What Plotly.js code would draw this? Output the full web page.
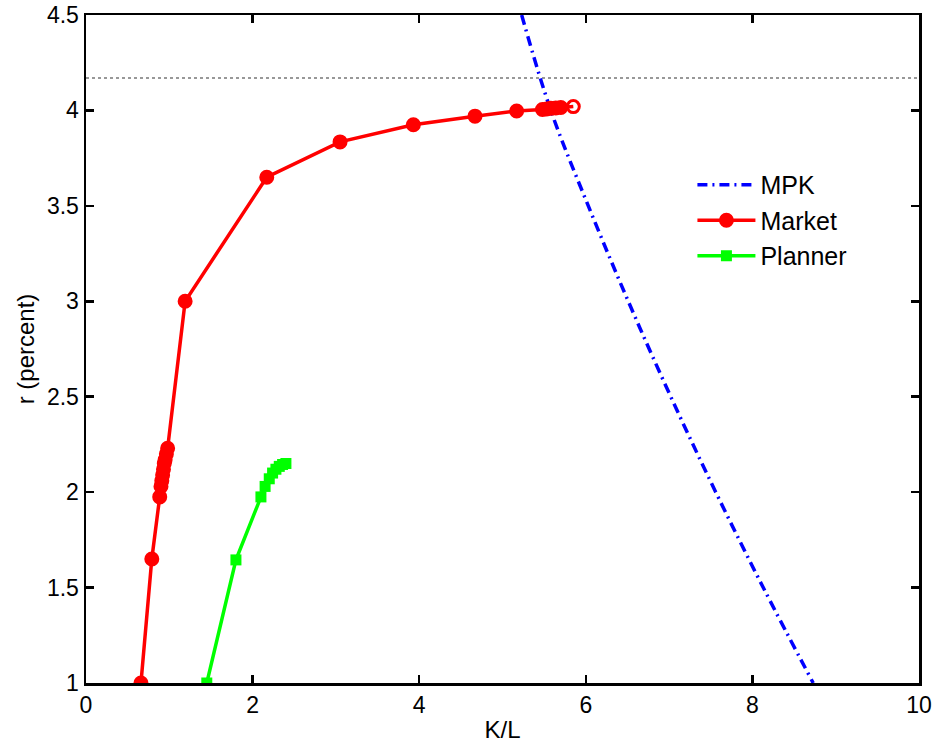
<!DOCTYPE html>
<html>
<head>
<meta charset="utf-8">
<script src="https://cdn.plot.ly/plotly-3.0.1.min.js"></script>
<style>html,body{margin:0;padding:0;background:#fff;}#chart{width:940px;height:747px;}</style>
</head>
<body>
<div id="chart"></div>
<script>
// MPK curve
const mpkX = [5.23, 5.58, 6.03, 6.51, 7.02, 7.56, 8.13, 8.73];
const mpkY = [4.5, 4.0, 3.5, 3.0, 2.5, 2.0, 1.5, 1.0];

// Market path
const marketX = [0.66, 0.79, 0.885, 0.90, 0.91, 0.92, 0.93, 0.94, 0.95, 0.965, 0.98, 1.19, 2.17, 3.05, 3.93, 4.67, 5.17, 5.48, 5.53, 5.58, 5.64, 5.70, 5.85];
const marketY = [1.0, 1.65, 1.975, 2.03, 2.06, 2.09, 2.12, 2.15, 2.17, 2.20, 2.23, 3.0, 3.65, 3.835, 3.925, 3.97, 3.997, 4.005, 4.008, 4.011, 4.013, 4.015, 4.02];

// Planner path
const plannerX = [1.45, 1.80, 2.10, 2.15, 2.20, 2.24, 2.28, 2.32, 2.36, 2.40];
const plannerY = [1.0, 1.645, 1.975, 2.03, 2.07, 2.10, 2.12, 2.135, 2.145, 2.15];

// Horizontal reference level
const refX = [0, 10];
const refY = [4.17, 4.17];

const xTicks = [0, 2, 4, 6, 8, 10];
const yTicks = [1, 1.5, 2, 2.5, 3, 3.5, 4, 4.5];

const marketSymbols = marketX.map((_, i) => i === marketX.length - 1 ? 'circle-open' : 'circle');

const traces = [
  {x: refX, y: refY, mode: 'lines', showlegend: false, hoverinfo: 'skip',
   line: {color: '#777777', width: 1.5, dash: 'dot'}},
  {x: mpkX, y: mpkY, mode: 'lines', name: 'MPK',
   line: {color: '#0000ff', width: 3.5, dash: '10px,5px,2px,5px', shape: 'spline'}},
  {x: marketX, y: marketY, mode: 'lines+markers', name: 'Market',
   line: {color: '#ff0000', width: 3.5},
   marker: {color: '#ff0000', size: 12, symbol: marketSymbols, line: {color: '#ff0000', width: 3}}},
  {x: plannerX, y: plannerY, mode: 'lines+markers', name: 'Planner',
   line: {color: '#00ff00', width: 3.5},
   marker: {color: '#00ff00', size: 11, symbol: 'square', line: {width: 0}}}
];

const axisCommon = {
  showgrid: false, zeroline: false, showline: true, linecolor: '#000', linewidth: 2.5,
  mirror: 'ticks', ticks: 'inside', ticklen: 8, tickwidth: 2.5, tickcolor: '#000',
  tickfont: {family: 'Liberation Sans, Arial, sans-serif', size: 23, color: '#000'}
};

const layout = {
  width: 940, height: 747,
  margin: {l: 86, r: 21, t: 15, b: 64},
  paper_bgcolor: '#fff', plot_bgcolor: '#fff',
  font: {family: 'Liberation Sans, Arial, sans-serif', color: '#000'},
  xaxis: Object.assign({}, axisCommon, {
    range: [0, 10], tickvals: xTicks, ticktext: xTicks.map(String),
    title: {text: 'K/L', font: {size: 24}, standoff: 4}
  }),
  yaxis: Object.assign({}, axisCommon, {
    range: [1, 4.5], tickvals: yTicks, ticktext: yTicks.map(String),
    title: {text: 'r (percent)', font: {size: 24}, standoff: 6}
  }),
  legend: {
    x: 0.728, y: 0.78, xanchor: 'left', yanchor: 'top',
    bgcolor: 'rgba(255,255,255,0)', borderwidth: 0,
    font: {family: 'Liberation Sans, Arial, sans-serif', size: 25, color: '#000'},
    tracegroupgap: 0, itemwidth: 58
  },
  showlegend: true
};

Plotly.newPlot('chart', traces, layout, {displayModeBar: false, staticPlot: true});
</script>
</body>
</html>
